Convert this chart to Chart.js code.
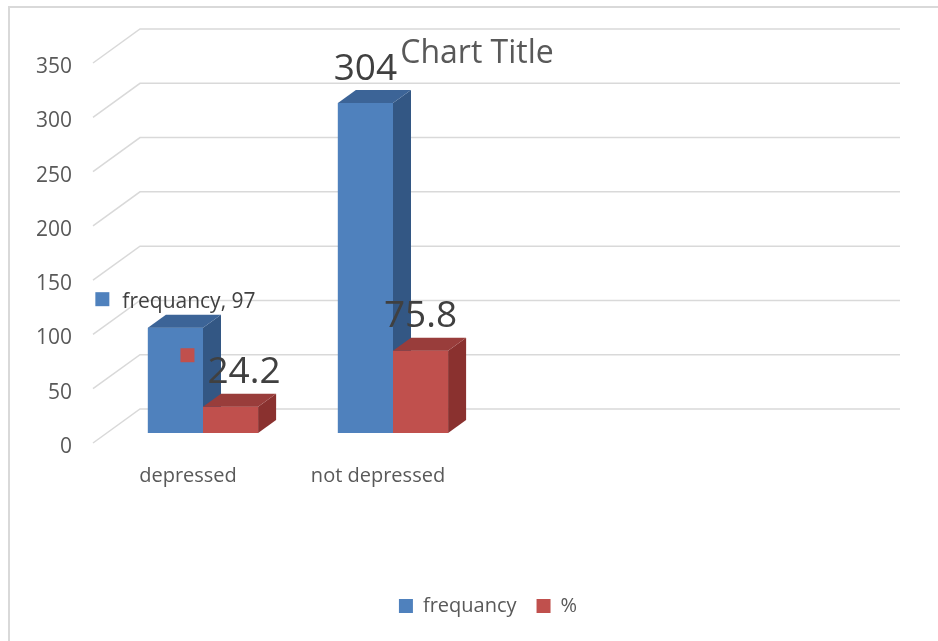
<!DOCTYPE html>
<html>
<head>
<meta charset="utf-8">
<title>frequancy / %</title>
<script src="https://cdn.jsdelivr.net/npm/chart.js@4.4.1/dist/chart.umd.min.js"></script>
<style>
  html, body { margin: 0; padding: 0; background: #ffffff; }
  #wrap { width: 938px; height: 641px; position: relative; }
</style>
</head>
<body>
<div id="wrap"><canvas id="chart" width="938" height="641"></canvas></div>
<script>
// ---- data ----
const categories = ['depressed', 'not depressed', '', ''];
const seriesNames = ['frequancy', '%'];
const frequency = [97, 304, null, null];
const percent = [24.2, 75.8, null, null];
const yMin = 0;
const yMax = 350;
const yStep = 50;
const chartTitle = 'Chart Title';

// ---- look ----
const FONT = "'Open Sans', 'Liberation Sans', sans-serif";
const palette = [
  { front: '#4F81BD', side: '#335784', top: '#3C6497' },
  { front: '#C0504D', side: '#8A312F', top: '#993D3B' }
];
// 3D projection offsets relative to the plane the bar fronts stand in
const FRONT_PLANE = { dx: -15, dy: 10 };
const BACK_PLANE = { dx: 32, dy: -24 };
const BAR_DEPTH = { dx: 18, dy: -13 };

// per-point data label format: [series][category]
const labelFormat = [
  [ { name: true, key: true, size: 21, keyRise: 8.5, gap: 20 }, { name: false, key: false, size: 37, gap: 23 } ],
  [ { name: false, key: true, size: 37, keyRise: 27.5, gap: 24 }, { name: false, key: false, size: 37, gap: 24 } ]
];

const seriesValues = [frequency, percent];

const threeD = {
  id: 'threeD',
  beforeDraw(chart) {
    const ctx = chart.ctx;
    ctx.save();
    ctx.fillStyle = '#ffffff';
    ctx.fillRect(0, 0, chart.width, chart.height);
    ctx.strokeStyle = '#D9D9D9';
    ctx.lineWidth = 2;
    ctx.strokeRect(9, 7, chart.width + 50, chart.height + 50);
    ctx.restore();
  },
  beforeDatasetsDraw(chart) {
    const { ctx, chartArea: a, scales: { y } } = chart;
    ctx.save();
    ctx.strokeStyle = '#D9D9D9';
    ctx.lineWidth = 1.5;
    y.ticks.forEach(t => {
      const py = y.getPixelForValue(t.value);
      ctx.beginPath();
      ctx.moveTo(a.left + FRONT_PLANE.dx, py + FRONT_PLANE.dy);
      ctx.lineTo(a.left + BACK_PLANE.dx, py + BACK_PLANE.dy);
      ctx.lineTo(a.right + BACK_PLANE.dx, py + BACK_PLANE.dy);
      ctx.stroke();
    });
    ctx.restore();
  },
  afterDatasetsDraw(chart) {
    const ctx = chart.ctx;
    const nCat = categories.length;
    ctx.save();
    // boxes, category by category so neighbouring faces overlap correctly
    for (let i = 0; i < nCat; i++) {
      chart.data.datasets.forEach((ds, d) => {
        if (ds.data[i] == null) return;
        const el = chart.getDatasetMeta(d).data[i];
        const { x, y, base, width } = el.getProps(['x', 'y', 'base', 'width'], true);
        const l = x - width / 2, r = x + width / 2;
        const c = palette[d];
        ctx.fillStyle = c.front;
        ctx.fillRect(l, y, width, base - y);
        ctx.fillStyle = c.side;
        ctx.beginPath();
        ctx.moveTo(r, base);
        ctx.lineTo(r + BAR_DEPTH.dx, base + BAR_DEPTH.dy);
        ctx.lineTo(r + BAR_DEPTH.dx, y + BAR_DEPTH.dy);
        ctx.lineTo(r, y);
        ctx.closePath();
        ctx.fill();
        ctx.fillStyle = c.top;
        ctx.beginPath();
        ctx.moveTo(l, y);
        ctx.lineTo(l + BAR_DEPTH.dx, y + BAR_DEPTH.dy);
        ctx.lineTo(r + BAR_DEPTH.dx, y + BAR_DEPTH.dy);
        ctx.lineTo(r, y);
        ctx.closePath();
        ctx.fill();
      });
    }
    ctx.restore();
  },
  afterDraw(chart) {
    const ctx = chart.ctx;
    ctx.save();
    // data labels
    chart.data.datasets.forEach((ds, d) => {
      ds.data.forEach((v, i) => {
        if (v == null) return;
        const fmt = labelFormat[d][i];
        const el = chart.getDatasetMeta(d).data[i];
        const { x, y } = el.getProps(['x', 'y'], true);
        const text = fmt.name ? ds.label + ', ' + v : String(v);
        ctx.font = fmt.size + 'px ' + FONT;
        const tw = ctx.measureText(text).width;
        const keySize = 14, keyGap = 13;
        const total = tw + (fmt.key ? keySize + keyGap : 0);
        let sx = x - total / 2;
        const baseline = y - fmt.gap;
        if (fmt.key) {
          ctx.fillStyle = palette[d].front;
          ctx.fillRect(sx, baseline - fmt.keyRise - keySize / 2, keySize, keySize);
          sx += keySize + keyGap;
        }
        ctx.fillStyle = '#404040';
        ctx.textAlign = 'left';
        ctx.textBaseline = 'alphabetic';
        ctx.fillText(text, sx, baseline);
      });
    });
    // title
    ctx.font = '32px ' + FONT;
    ctx.fillStyle = '#595959';
    ctx.textAlign = 'center';
    ctx.textBaseline = 'alphabetic';
    ctx.fillText(chartTitle, 477, 63);
    ctx.restore();
  }
};

new Chart(document.getElementById('chart'), {
  type: 'bar',
  data: {
    labels: categories,
    datasets: seriesNames.map((name, d) => ({
      label: name,
      data: seriesValues[d],
      backgroundColor: palette[d].front,
      borderWidth: 0,
      categoryPercentage: 0.58,
      barPercentage: 1.0
    }))
  },
  options: {
    responsive: false,
    animation: false,
    devicePixelRatio: 1,
    layout: { padding: { top: 53, right: 70, bottom: 15, left: 0 } },
    scales: {
      x: {
        grid: { display: false, drawTicks: false },
        border: { display: false },
        ticks: {
          color: '#595959',
          font: { family: FONT, size: 20 },
          padding: 31,
          labelOffset: -15,
          maxRotation: 0,
          autoSkip: false
        },
        afterFit(scale) { scale.height = 143; }
      },
      y: {
        min: yMin,
        max: yMax,
        grid: { display: false, drawTicks: false },
        border: { display: false },
        ticks: {
          stepSize: yStep,
          color: '#595959',
          font: { family: FONT, size: 21 },
          padding: 36,
          labelOffset: 14
        },
        afterFit(scale) { scale.width = 108; }
      }
    },
    plugins: {
      legend: {
        position: 'bottom',
        fullSize: false,
        labels: {
          boxWidth: 14,
          boxHeight: 14,
          padding: 20,
          color: '#595959',
          font: { family: FONT, size: 20 }
        }
      },
      title: { display: false },
      tooltip: { enabled: false }
    }
  },
  plugins: [threeD]
});
</script>
</body>
</html>
